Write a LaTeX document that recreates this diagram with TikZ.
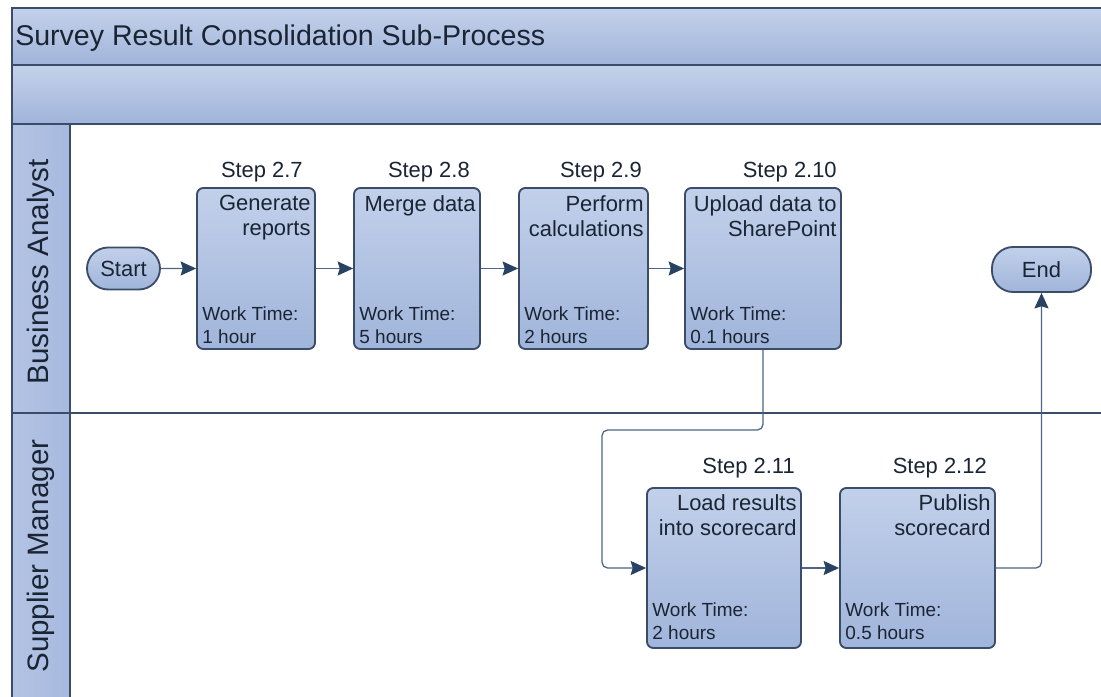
\documentclass[tikz,border=0pt]{standalone}
\usepackage{fontspec}
\setmainfont{Liberation Sans}
\usetikzlibrary{arrows.meta,fit}
\definecolor{ink}{HTML}{1A2433}
\definecolor{edgec}{HTML}{3A4C68}
\definecolor{bandtop}{HTML}{C4D1EA}
\definecolor{bandbot}{HTML}{A0B4DA}
\definecolor{boxtop}{HTML}{C2D0EA}
\definecolor{boxbot}{HTML}{A0B5DB}
\definecolor{lanefill}{HTML}{A6B9DF}
\definecolor{wire}{HTML}{4F6583}
\definecolor{tipc}{HTML}{274262}
\tikzset{
  frameline/.style={draw=edgec, line width=1.9pt},
  stepbox/.style={draw=edgec, line width=1.3pt, rounded corners=4.5pt, top color=boxtop, bottom color=boxbot, inner sep=0pt},
  term/.style={draw=edgec, line width=1.3pt, rounded corners=15pt, top color=boxtop, bottom color=boxbot, inner sep=0pt, text=ink, font=\fontsize{15.6}{18}\selectfont},
  steplbl/.style={anchor=base east, inner sep=0pt, text=ink, font=\fontsize{15.6}{18}\selectfont},
  boxttl/.style={anchor=north east, inner sep=0pt, align=right, text=ink, font=\fontsize{15.6}{17.8}\selectfont},
  worktime/.style={anchor=south west, inner sep=0pt, align=left, text=ink, font=\fontsize{13.5}{16.4}\selectfont},
  lanelbl/.style={rotate=90, inner sep=0pt, text=ink, font=\fontsize{21}{24}\selectfont},
  conn/.style={draw=wire, line width=0.9pt, rounded corners=4pt, -{Stealth[length=11pt,width=10pt,inset=1.5pt,color=tipc,fill=tipc]}}
}
\begin{document}
\begin{tikzpicture}[x=0.025cm,y=-0.025cm]
\useasboundingbox (0,0) rectangle (1101,697);
\begin{scope}
\clip (0,0) rectangle (1101,697);
\fill[white] (0,0) rectangle (1101,697);
% header bands
\shade[top color=bandtop, bottom color=bandbot] (12,8) rectangle (1110,65);
\shade[top color=bandtop, bottom color=bandbot] (12,65) rectangle (1110,124);
% lane label column
\shade[left color=lanefill!85!white, right color=lanefill] (12,124) rectangle (70,705);
% frame lines
\draw[frameline] (12,705) -- (12,8) -- (1110,8);
\draw[frameline] (12,65) -- (1110,65);
\draw[frameline] (12,124) -- (1110,124);
\draw[frameline] (12,413) -- (1110,413);
\draw[frameline] (70,124) -- (70,705);
\end{scope}

% title
\node[anchor=base west, inner sep=0pt, text=ink, font=\fontsize{20.3}{24}\selectfont] (title) at (15,45) {Survey Result Consolidation Sub-Process};

% lane labels
\node[lanelbl] (ba) at (41,272) {Business Analyst};
\node[lanelbl] (sm) at (41,556) {Supplier Manager};

% terminals
\node[term, fit={(87,247.5)(160,289.5)}] (start) {};
\node[text=ink, inner sep=0pt, font=\fontsize{15.6}{18}\selectfont] (startt) at (start.center) {Start};
\node[term, fit={(992,247)(1091,292)}] (end) {};
\node[text=ink, inner sep=0pt, font=\fontsize{15.6}{18}\selectfont] (endt) at (end.center) {End};

% step boxes
\node[stepbox, fit={(197,188)(315,349)}] (s27) {};
\node[stepbox, fit={(354,188)(480,349)}] (s28) {};
\node[stepbox, fit={(519,188)(648,349)}] (s29) {};
\node[stepbox, fit={(685,188)(841,349)}] (s210) {};
\node[stepbox, fit={(647,488)(801,648)}] (s211) {};
\node[stepbox, fit={(840,488)(995,648)}] (s212) {};

% step labels
\node[steplbl] (l27) at (303,177) {Step 2.7};
\node[steplbl] (l28) at (470,177) {Step 2.8};
\node[steplbl] (l29) at (642,177) {Step 2.9};
\node[steplbl] (l210) at (837,177) {Step 2.10};
\node[steplbl] (l211) at (795,473) {Step 2.11};
\node[steplbl] (l212) at (987,473) {Step 2.12};

% box titles
\node[boxttl] (t27) at ([xshift=-3.6pt,yshift=-5.6pt]s27.north east) {Generate\\reports};
\node[boxttl] (t28) at ([xshift=-3.6pt,yshift=-5.6pt]s28.north east) {Merge data};
\node[boxttl] (t29) at ([xshift=-3.6pt,yshift=-5.6pt]s29.north east) {Perform\\calculations};
\node[boxttl] (t210) at ([xshift=-3.6pt,yshift=-5.6pt]s210.north east) {Upload data to\\SharePoint};
\node[boxttl] (t211) at ([xshift=-3.6pt,yshift=-5pt]s211.north east) {Load results\\into scorecard};
\node[boxttl] (t212) at ([xshift=-3.6pt,yshift=-5pt]s212.north east) {Publish\\scorecard};

% work times
\node[worktime] (w27) at ([xshift=4.3pt,yshift=4.3pt]s27.south west) {Work Time:\\1 hour};
\node[worktime] (w28) at ([xshift=4.3pt,yshift=4.3pt]s28.south west) {Work Time:\\5 hours};
\node[worktime] (w29) at ([xshift=4.3pt,yshift=4.3pt]s29.south west) {Work Time:\\2 hours};
\node[worktime] (w210) at ([xshift=4.3pt,yshift=4.3pt]s210.south west) {Work Time:\\0.1 hours};
\node[worktime] (w211) at ([xshift=4.3pt,yshift=6.4pt]s211.south west) {Work Time:\\2 hours};
\node[worktime] (w212) at ([xshift=4.3pt,yshift=6.4pt]s212.south west) {Work Time:\\0.5 hours};

% connectors
\coordinate (k1) at (602,430);
\draw[conn] (start.east) -- (s27.west);
\draw[conn] (s27.east) -- (s28.west);
\draw[conn] (s28.east) -- (s29.west);
\draw[conn] (s29.east) -- (s210.west);
\draw[conn] (s210.south) |- (k1) |- (s211.west);
\draw[conn] (s211.east) -- (s212.west);
\draw[conn] (s212.east) -| (end.south);
\end{tikzpicture}
\end{document}
